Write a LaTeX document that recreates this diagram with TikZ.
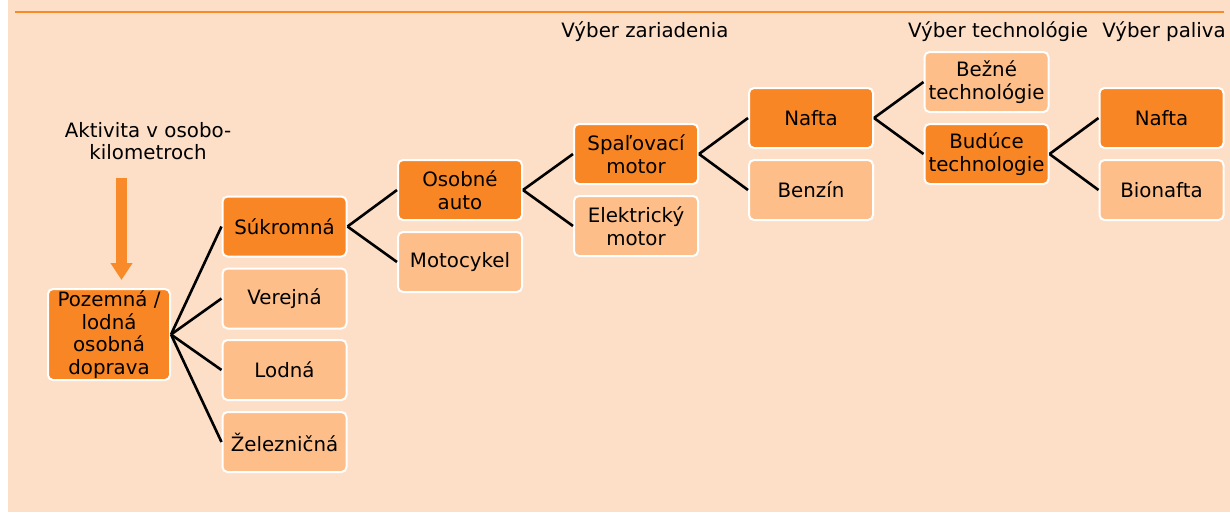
\documentclass[tikz,border=0pt]{standalone}
\usepackage{fontspec}
\setmainfont{DejaVu Sans}
\usetikzlibrary{arrows.meta}
\definecolor{bgpeach}{HTML}{FDDFC7}
\definecolor{darkor}{HTML}{F98624}
\definecolor{lightor}{HTML}{FDBE89}
\definecolor{lineor}{HTML}{F98A2A}
\definecolor{txt}{HTML}{000000}
\tikzset{
  box/.style={draw=white, line width=2pt, rounded corners=5pt, minimum width=124pt, minimum height=60pt, inner sep=0pt, align=center, text=txt, font=\fontsize{19.8}{22.5}\selectfont},
  dbox/.style={box, fill=darkor},
  lbox/.style={box, fill=lightor},
  lbl/.style={inner sep=0pt, align=center, text=txt, font=\fontsize{19.8}{22.5}\selectfont},
  conn/.style={draw=black, line width=2.6pt},
}
\begin{document}
\begin{tikzpicture}[x=1pt,y=-1pt]
\useasboundingbox (0,0) rectangle (1230,512);
\fill[bgpeach] (8,0) rectangle (1230,512);
\draw[lineor, line width=2.6pt] (15,12) -- (1224,12);

% headers
\node[lbl] (h1) at (645,32) {Výber zariadenia};
\node[lbl] (h2) at (998,32) {Výber technológie};
\node[lbl] (h3) at (1164,32) {Výber paliva};
\node[lbl] (akt) at (148,141) {Aktivita v osobo-\\kilometroch};

% nodes
\node[dbox, minimum width=122pt, minimum height=91pt] (poz) at (109,334.5) {Pozemná /\\lodná\\osobná\\doprava};
\node[dbox] (suk) at (284.5,226.5) {Súkromná};
\node[lbox] (ver) at (284.5,298.5) {Verejná};
\node[lbox] (lod) at (284.5,370) {Lodná};
\node[lbox] (zel) at (284.5,442) {Železničná};
\node[dbox] (oso) at (460,190) {Osobné\\auto};
\node[lbox] (mot) at (460,262) {Motocykel};
\node[dbox] (spa) at (636,154) {Spaľovací\\motor};
\node[lbox] (ele) at (636,226) {Elektrický\\motor};
\node[dbox] (naf) at (811,118) {Nafta};
\node[lbox] (ben) at (811,190) {Benzín};
\node[lbox] (bez) at (986.5,82) {Bežné\\technológie};
\node[dbox] (bud) at (986.5,154) {Budúce\\technologie};
\node[dbox] (naf2) at (1161.5,118) {Nafta};
\node[lbox] (bio) at (1161.5,190) {Bionafta};

% arrow
\coordinate (atop) at (121.5,178);
\coordinate (abot) at (121.5,280);
\draw[lineor, line width=11pt, -{Triangle[width=21pt,length=17pt]}] (atop) -- (abot);

% connectors
\foreach \c in {suk,ver,lod,zel} \draw[conn] (poz.east) -- (\c.west);
\foreach \c in {oso,mot} \draw[conn] (suk.east) -- (\c.west);
\foreach \c in {spa,ele} \draw[conn] (oso.east) -- (\c.west);
\foreach \c in {naf,ben} \draw[conn] (spa.east) -- (\c.west);
\foreach \c in {bez,bud} \draw[conn] (naf.east) -- (\c.west);
\foreach \c in {naf2,bio} \draw[conn] (bud.east) -- (\c.west);
\end{tikzpicture}
\end{document}
